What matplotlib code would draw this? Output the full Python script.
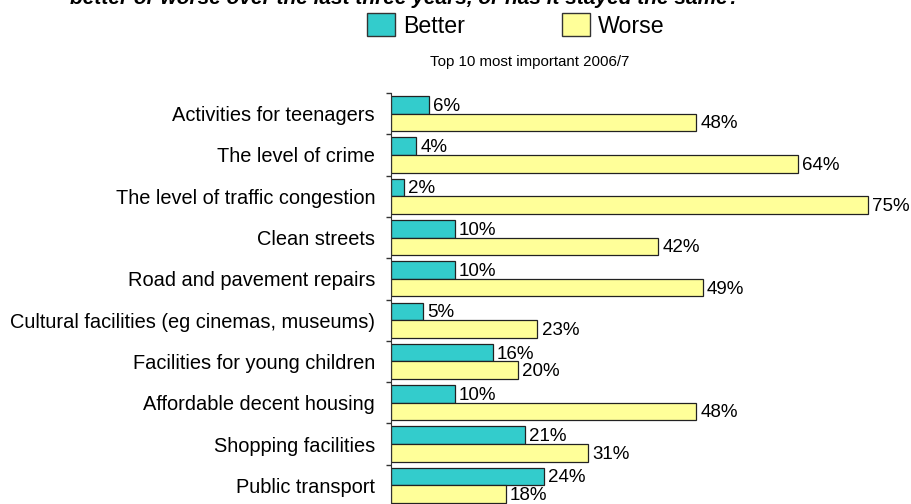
import matplotlib.pyplot as plt
from matplotlib.patches import Patch
import numpy as np

plt.rcParams['font.family'] = ['Liberation Sans', 'DejaVu Sans']

categories = ['Activities for teenagers', 'The level of crime',
              'The level of traffic congestion', 'Clean streets',
              'Road and pavement repairs',
              'Cultural facilities (eg cinemas, museums)',
              'Facilities for young children', 'Affordable decent housing',
              'Shopping facilities', 'Public transport']
better = [6, 4, 2, 10, 10, 5, 16, 10, 21, 24]
worse = [48, 64, 75, 42, 49, 23, 20, 48, 31, 18]

teal = '#33CCCC'
yellow = '#FFFF99'

W, H = 912, 504
fig = plt.figure(figsize=(W / 100, H / 100), dpi=100)
# axes placed in pixel terms: left spine at x=391, top at y=93
ax = fig.add_axes([391 / W, (H - 506) / H, 509 / W, 413 / H])

n = len(categories)
y = np.arange(n)
h = 0.425
ax.barh(y - h / 2, better, height=h, color=teal, edgecolor='#222222', linewidth=0.9)
ax.barh(y + h / 2, worse, height=h, color=yellow, edgecolor='#222222', linewidth=0.9)

for i in range(n):
    ax.annotate(f'{better[i]}%', (better[i], y[i] - h / 2), xytext=(3, -1),
                textcoords='offset points', va='center', ha='left', fontsize=13.5)
    ax.annotate(f'{worse[i]}%', (worse[i], y[i] + h / 2), xytext=(3, -1),
                textcoords='offset points', va='center', ha='left', fontsize=13.5)

ax.set_xlim(0, 80)
ax.set_ylim(n - 0.5, -0.5)
ax.set_yticks(y)
ax.set_yticklabels(categories, fontsize=14.45)
ax.set_yticks(np.arange(n + 1) - 0.5, minor=True)
ax.tick_params(axis='y', which='major', length=0, pad=11.5)
ax.tick_params(axis='y', which='minor', length=3.6, width=1, color='#333333')
ax.set_xticks([])
for side in ['top', 'right', 'bottom']:
    ax.spines[side].set_visible(False)
ax.spines['left'].set_color('#333333')

handles = [Patch(facecolor=teal, edgecolor='#333333', label='Better'),
           Patch(facecolor=yellow, edgecolor='#333333', label='Worse')]
fig.legend(handles=handles, loc='center', bbox_to_anchor=(516 / W, 1 - 25.5 / H),
           ncol=2, frameon=False, fontsize=16.7, handlelength=1.2,
           handleheight=1.16, handletextpad=0.35, columnspacing=4.2, borderpad=0)

fig.text(530 / W, 1 - 62 / H, 'Top 10 most important 2006/7', ha='center',
         va='center', fontsize=10.8)
fig.text(70 / W, 1 - 3.5 / H,
         'better or worse over the last three years, or has it stayed the same?',
         ha='left', va='baseline', fontsize=15, style='italic', weight='bold')

fig.savefig('out.png', dpi=100)
